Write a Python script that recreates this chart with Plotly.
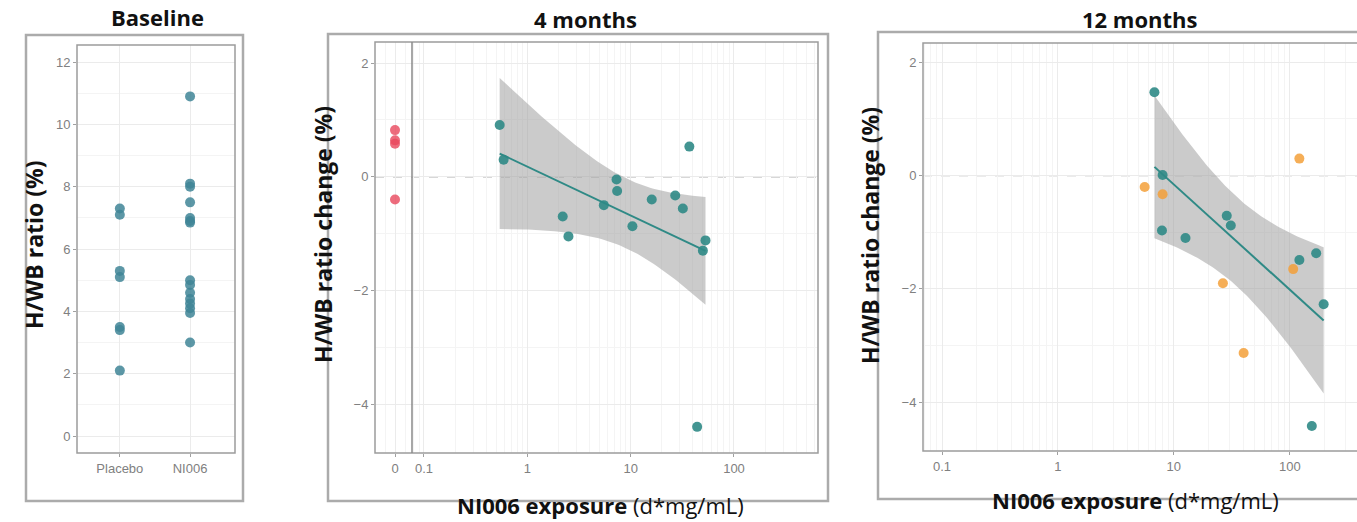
import numpy as np
import plotly.graph_objects as go

W, H = 1357, 522

# ---------------- data ----------------
base_groups = ["Placebo", "NI006"]
base_placebo = [7.3, 7.1, 5.3, 5.1, 3.5, 3.4, 2.1]
base_ni006 = [10.9, 8.1, 8.0, 7.5, 7.0, 6.9, 6.85, 5.0, 4.85, 4.6, 4.4, 4.25, 4.1, 3.95, 3.0]

m4_placebo_exposure = [0, 0, 0, 0]
m4_placebo_change = [0.82, 0.64, 0.58, -0.40]
m4_ni006_exposure = [0.54, 0.59, 2.2, 2.5, 5.5, 7.3, 7.4, 10.4, 16, 27, 32, 37, 53, 50, 44]
m4_ni006_change = [0.91, 0.30, -0.70, -1.05, -0.50, -0.05, -0.25, -0.87, -0.40, -0.33,
                   -0.56, 0.53, -1.12, -1.30, -4.40]

m12_ni006_exposure = [6.8, 8.0, 7.9, 12.6, 28.6, 31, 169, 121, 196, 155]
m12_ni006_change = [1.47, 0.01, -0.97, -1.10, -0.71, -0.88, -1.37, -1.49, -2.27, -4.42]
m12_cross_exposure = [5.6, 8.0, 121, 26.5, 40, 107]
m12_cross_change = [-0.20, -0.33, 0.30, -1.90, -3.13, -1.65]

log_tick_vals = [0.1, 1, 10, 100]
log_tick_text = ["0.1", "1", "10", "100"]
zero_tick_text = ["0"]
base_y_ticks = [0, 2, 4, 6, 8, 10, 12]
change_y_ticks = [-4, -2, 0, 2]

# ---------------- styles ----------------
TEAL = "#2f8a86"
BASE_COL = "#3f8596"
RED = "#e8475c"
ORANGE = "#f3a03a"
BAND = "rgba(160,160,160,0.55)"
GRID = "#ebebeb"
MINOR = "#f4f4f4"
TICKCOL = "#808080"
TICKFONT = dict(family="Liberation Sans, Arial, sans-serif", size=13, color=TICKCOL)
TITLEFONT = dict(family="Open Sans, sans-serif", size=22, color="#111111")
YTITLEFONT = dict(family="Open Sans, sans-serif", size=23, color="#111111")

T975 = {5: 2.571, 6: 2.447, 7: 2.365, 8: 2.306, 9: 2.262, 10: 2.228, 11: 2.201,
        12: 2.179, 13: 2.160, 14: 2.145, 15: 2.131, 16: 2.120, 17: 2.110, 18: 2.101}


def px_x(p):
    return p / W


def px_y(p):
    return 1 - p / H


def lm_band(x, y, n_grid=80):
    lx = np.log10(np.asarray(x, float))
    yy = np.asarray(y, float)
    n = len(lx)
    mx, my = lx.mean(), yy.mean()
    sxx = ((lx - mx) ** 2).sum()
    b = ((lx - mx) * (yy - my)).sum() / sxx
    a = my - b * mx
    s = np.sqrt(((yy - (a + b * lx)) ** 2).sum() / (n - 2))
    g = np.linspace(lx.min(), lx.max(), n_grid)
    fit = a + b * g
    se = s * np.sqrt(1 / n + (g - mx) ** 2 / sxx)
    t = T975[n - 2]
    return 10 ** g, fit, fit - t * se, fit + t * se


fig = go.Figure()

# ---------------- Baseline ----------------
fig.add_trace(go.Scatter(x=[base_groups[0]] * len(base_placebo), y=base_placebo, mode="markers",
                         marker=dict(color=BASE_COL, size=10, opacity=0.85),
                         xaxis="x", yaxis="y", showlegend=False))
fig.add_trace(go.Scatter(x=[base_groups[1]] * len(base_ni006), y=base_ni006, mode="markers",
                         marker=dict(color=BASE_COL, size=10, opacity=0.85),
                         xaxis="x", yaxis="y", showlegend=False))

# ---------------- 4 months ----------------
gx, fit, lo, hi = lm_band(m4_ni006_exposure, m4_ni006_change)
fig.add_trace(go.Scatter(x=np.concatenate([gx, gx[::-1]]), y=np.concatenate([hi, lo[::-1]]),
                         fill="toself", fillcolor=BAND, line=dict(width=0), mode="lines",
                         hoverinfo="skip", xaxis="x3", yaxis="y2", showlegend=False))
fig.add_trace(go.Scatter(x=gx, y=fit, mode="lines", line=dict(color=TEAL, width=2),
                         xaxis="x3", yaxis="y2", showlegend=False))
fig.add_trace(go.Scatter(x=m4_ni006_exposure, y=m4_ni006_change, mode="markers",
                         marker=dict(color=TEAL, size=10, opacity=0.9),
                         xaxis="x3", yaxis="y2", showlegend=False))
fig.add_trace(go.Scatter(x=m4_placebo_exposure, y=m4_placebo_change, mode="markers",
                         marker=dict(color=RED, size=10, opacity=0.8),
                         xaxis="x2", yaxis="y2", showlegend=False))

# ---------------- 12 months ----------------
gx, fit, lo, hi = lm_band(m12_ni006_exposure, m12_ni006_change)
fig.add_trace(go.Scatter(x=np.concatenate([gx, gx[::-1]]), y=np.concatenate([hi, lo[::-1]]),
                         fill="toself", fillcolor=BAND, line=dict(width=0), mode="lines",
                         hoverinfo="skip", xaxis="x4", yaxis="y4", showlegend=False))
fig.add_trace(go.Scatter(x=gx, y=fit, mode="lines", line=dict(color=TEAL, width=2),
                         xaxis="x4", yaxis="y4", showlegend=False))
fig.add_trace(go.Scatter(x=m12_cross_exposure, y=m12_cross_change, mode="markers",
                         marker=dict(color=ORANGE, size=10, opacity=0.85),
                         xaxis="x4", yaxis="y4", showlegend=False))
fig.add_trace(go.Scatter(x=m12_ni006_exposure, y=m12_ni006_change, mode="markers",
                         marker=dict(color=TEAL, size=10, opacity=0.9),
                         xaxis="x4", yaxis="y4", showlegend=False))

common_tick = dict(ticks="outside", ticklen=3, tickcolor="#a0a0a0", tickfont=TICKFONT,
                   showline=False, zeroline=False, gridcolor=GRID, gridwidth=1)

fig.update_layout(
    width=W, height=H, margin=dict(l=0, r=0, t=0, b=0),
    paper_bgcolor="white", plot_bgcolor="white", showlegend=False,
    xaxis=dict(domain=[px_x(77), px_x(235)], anchor="y", type="category",
               categoryorder="array", categoryarray=base_groups, range=[-0.61, 1.64], **common_tick),
    yaxis=dict(domain=[px_y(453), px_y(45)], anchor="x", range=[-0.545, 12.55],
               tickvals=base_y_ticks,
               minor=dict(dtick=1, showgrid=True, gridcolor=MINOR, ticks=""), **common_tick),
    xaxis2=dict(domain=[px_x(375), px_x(412)], anchor="y2", range=[-1, 0.85],
                tickvals=[0], ticktext=zero_tick_text,
                minor=dict(tickvals=[-0.5, 0.5], showgrid=True, gridcolor=MINOR, ticks=""),
                **common_tick),
    yaxis2=dict(domain=[px_y(453), px_y(42)], anchor="x2", range=[-4.86, 2.37],
                tickvals=change_y_ticks,
                minor=dict(dtick=1, showgrid=True, gridcolor=MINOR, ticks=""), **common_tick),
    xaxis3=dict(domain=[px_x(412), px_x(818)], anchor="y2", type="log",
                range=[-1.116, 2.813], tickvals=log_tick_vals, ticktext=log_tick_text,
                minor=dict(dtick="D1", showgrid=True, gridcolor=MINOR, ticks=""), **common_tick),
    xaxis4=dict(domain=[px_x(923), 1.0], anchor="y4", type="log",
                range=[-1.164, 2.58], tickvals=log_tick_vals, ticktext=log_tick_text,
                minor=dict(dtick="D1", showgrid=True, gridcolor=MINOR, ticks=""), **common_tick),
    yaxis4=dict(domain=[px_y(451), px_y(43)], anchor="x4", range=[-4.86, 2.34],
                tickvals=change_y_ticks,
                minor=dict(dtick=1, showgrid=True, gridcolor=MINOR, ticks=""), **common_tick),
)

shapes = []
# outer boxes
for (x0, y0, x1, y1) in [(26, 35, 243, 501), (328, 34, 828, 501), (878, 32, 1370, 499)]:
    shapes.append(dict(type="rect", xref="paper", yref="paper", x0=px_x(x0), x1=px_x(x1),
                       y0=px_y(y1), y1=px_y(y0), line=dict(color="#ababab", width=2.5),
                       fillcolor="rgba(0,0,0,0)", layer="above"))
# inner panel borders
for (x0, y0, x1, y1) in [(77, 45, 235, 453), (375, 42, 818, 453), (923, 43, 1365, 451)]:
    shapes.append(dict(type="rect", xref="paper", yref="paper", x0=px_x(x0), x1=px_x(x1),
                       y0=px_y(y1), y1=px_y(y0), line=dict(color="#9c9c9c", width=1.5),
                       fillcolor="rgba(0,0,0,0)", layer="above"))
# separator between zero and log exposure
shapes.append(dict(type="line", xref="paper", yref="paper", x0=px_x(412), x1=px_x(412),
                   y0=px_y(453), y1=px_y(42), line=dict(color="#8a8a8a", width=1.5), layer="above"))
# dashed reference lines at 0
shapes.append(dict(type="line", xref="paper", yref="y2", x0=px_x(375), x1=px_x(818), y0=0, y1=0,
                   line=dict(color="#b0b0b0", width=1.3, dash="dash"), layer="below"))
shapes.append(dict(type="line", xref="paper", yref="y4", x0=px_x(923), x1=1.0, y0=0, y1=0,
                   line=dict(color="#b0b0b0", width=1.3, dash="dash"), layer="below"))
fig.update_layout(shapes=shapes)

ann = []
for text, cx, cy in [("Baseline", 157, 17), ("4 months", 585, 19), ("12 months", 1140, 19)]:
    ann.append(dict(text="<b>%s</b>" % text, x=px_x(cx), y=px_y(cy), xref="paper", yref="paper",
                    showarrow=False, xanchor="center", yanchor="middle", font=TITLEFONT))
for text, cx, cy in [("H/WB ratio (%)", 34, 245), ("H/WB ratio change (%)", 323, 235),
                     ("H/WB ratio change (%)", 870, 235)]:
    ann.append(dict(text="<b>%s</b>" % text, x=px_x(cx), y=px_y(cy), xref="paper", yref="paper",
                    showarrow=False, xanchor="center", yanchor="middle", textangle=-90,
                    font=YTITLEFONT))
for cx, cy in [(600, 505), (1135, 500)]:
    ann.append(dict(text="<b>NI006 exposure</b> (d*mg/mL)", x=px_x(cx), y=px_y(cy),
                    xref="paper", yref="paper", showarrow=False, xanchor="center",
                    yanchor="middle", font=TITLEFONT))
fig.update_layout(annotations=ann)

fig.write_html("out.html", config={"displayModeBar": False})

# remove the default page margin so the figure sits at the window's top-left corner
with open("out.html", "r", encoding="utf-8") as f:
    html = f.read()
html = html.replace("<body>", '<body style="margin:0;padding:0;overflow:hidden">', 1)
with open("out.html", "w", encoding="utf-8") as f:
    f.write(html)
